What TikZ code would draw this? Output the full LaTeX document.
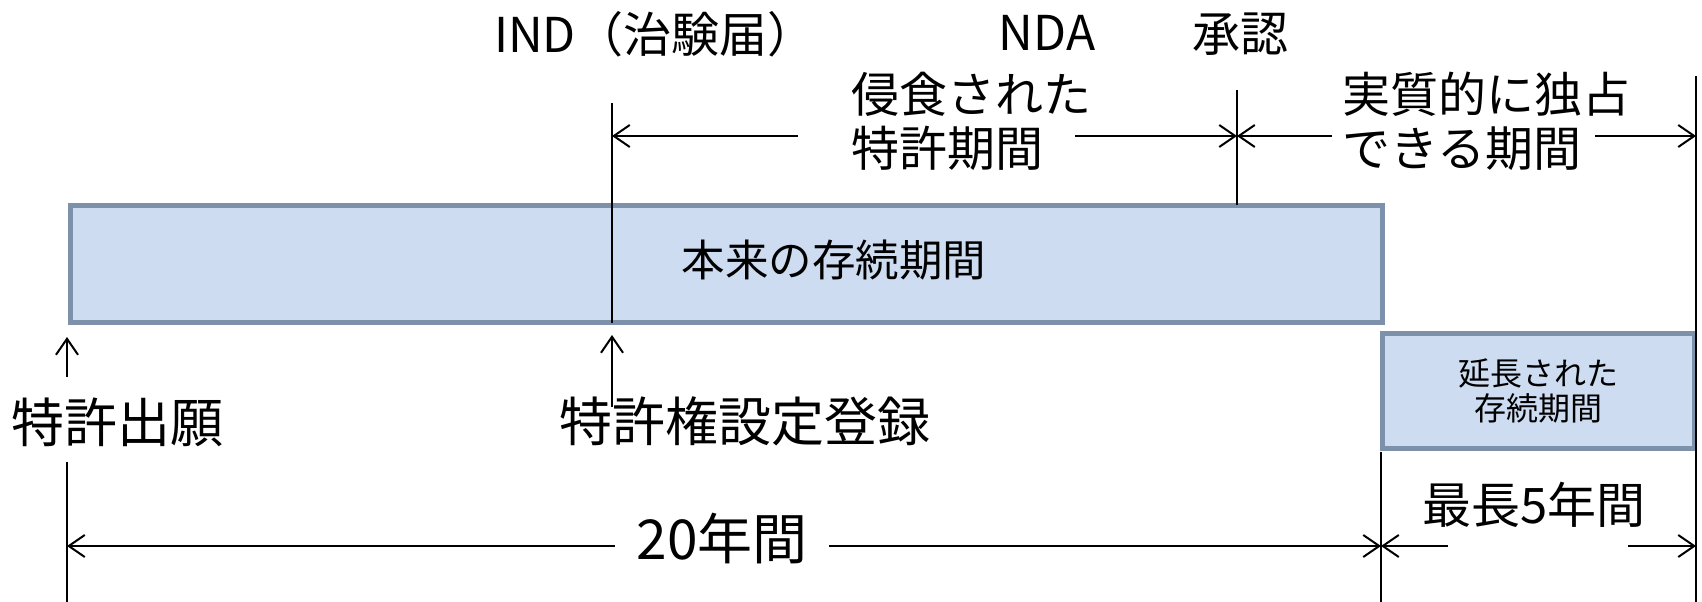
\documentclass[tikz,border=0pt]{standalone}
\usepackage{fontspec}
\setmainfont{Noto Sans CJK JP}
\usetikzlibrary{arrows.meta}
\definecolor{barfill}{RGB}{205,220,240}
\definecolor{barline}{RGB}{126,145,170}
\begin{document}
\begin{tikzpicture}[x=1pt,y=-1pt,
  tl/.style={line width=2pt, black},
  arr/.style={tl, -{Straight Barb[length=16pt,width=22pt,line width=2pt]}},
  bar/.style={draw=barline, fill=barfill, line width=5pt, inner sep=0pt},
  lbl/.style={inner sep=0pt, font=\fontsize{48pt}{54pt}\selectfont},
  big/.style={inner sep=0pt, font=\fontsize{53pt}{60pt}\selectfont}]
\useasboundingbox (0,0) rectangle (1702,602);
% bars
\node[bar, minimum width=1312pt, minimum height=117pt] (main) at (726,263.5) {};
\node[bar, minimum width=312pt, minimum height=115pt, align=center,
      font=\fontsize{32pt}{35pt}\selectfont] (ext) at (1538,390.5) {延長された\\存続期間};
% labels
\node[lbl] (ind) at (655,34) {IND（治験届）};
\node[lbl] (nda) at (1047,33) {NDA};
\node[lbl] (appr) at (1240,34) {承認};
\node[lbl, align=left, anchor=west] (erode) at (851,121) {侵食された\\特許期間};
\node[lbl, align=left, anchor=west] (excl) at (1342,121) {実質的に独占\\できる期間};
\node[inner sep=0pt, font=\fontsize{43.5pt}{50pt}\selectfont] (orig) at (834,260) {本来の存続期間};
\node[big] (filing) at (118,422) {特許出願};
\node[big] (grant) at (745,421) {特許権設定登録};
\node[inner sep=0pt, font=\fontsize{55pt}{60pt}\selectfont] (twenty) at (722,539) {20年間};
\node[inner sep=0pt, font=\fontsize{49pt}{56pt}\selectfont] (five) at (1534,505) {最長5年間};
% timeline coordinates
\coordinate (gTop) at (612,103);
\coordinate (gBot) at (612,323);
\coordinate (gArS) at (612,407);
\coordinate (gArE) at (612,335);
\coordinate (fArS) at (67,377);
\coordinate (fArE) at (67,337);
\coordinate (fLnT) at (67,462);
\coordinate (fLnB) at (67,602);
\coordinate (nTop) at (1237,90);
\coordinate (nBot) at (1237,205);
\coordinate (eTop) at (1381,452);
\coordinate (eBot) at (1381,602);
\coordinate (rTop) at (1696,76);
\coordinate (rBot) at (1696,602);
\coordinate (uG) at (612,136);
\coordinate (uN) at (1237,136);
\coordinate (uR) at (1696,136);
\coordinate (u1) at (798,136);
\coordinate (u2) at (1075,136);
\coordinate (u3) at (1332,136);
\coordinate (u4) at (1595,136);
\coordinate (dF) at (67,546);
\coordinate (dE) at (1381,546);
\coordinate (dR) at (1696,546);
\coordinate (d1) at (615,546);
\coordinate (d2) at (829,546);
\coordinate (d3) at (1448,546);
\coordinate (d4) at (1628,546);
% vertical lines
\draw[tl] (gTop) -- (gBot);
\draw[arr] (gArS) -- (gArE);
\draw[arr] (fArS) -- (fArE);
\draw[tl] (fLnT) -- (fLnB);
\draw[tl] (nTop) -- (nBot);
\draw[tl] (eTop) -- (eBot);
\draw[tl] (rTop) -- (rBot);
% horizontal arrows
\draw[arr] (u1) -- (uG);
\draw[arr] (u2) -- (uN);
\draw[arr] (u3) -- (uN);
\draw[arr] (u4) -- (uR);
\draw[arr] (d1) -- (dF);
\draw[arr] (d2) -- (dE);
\draw[arr] (d3) -- (dE);
\draw[arr] (d4) -- (dR);
\end{tikzpicture}
\end{document}
